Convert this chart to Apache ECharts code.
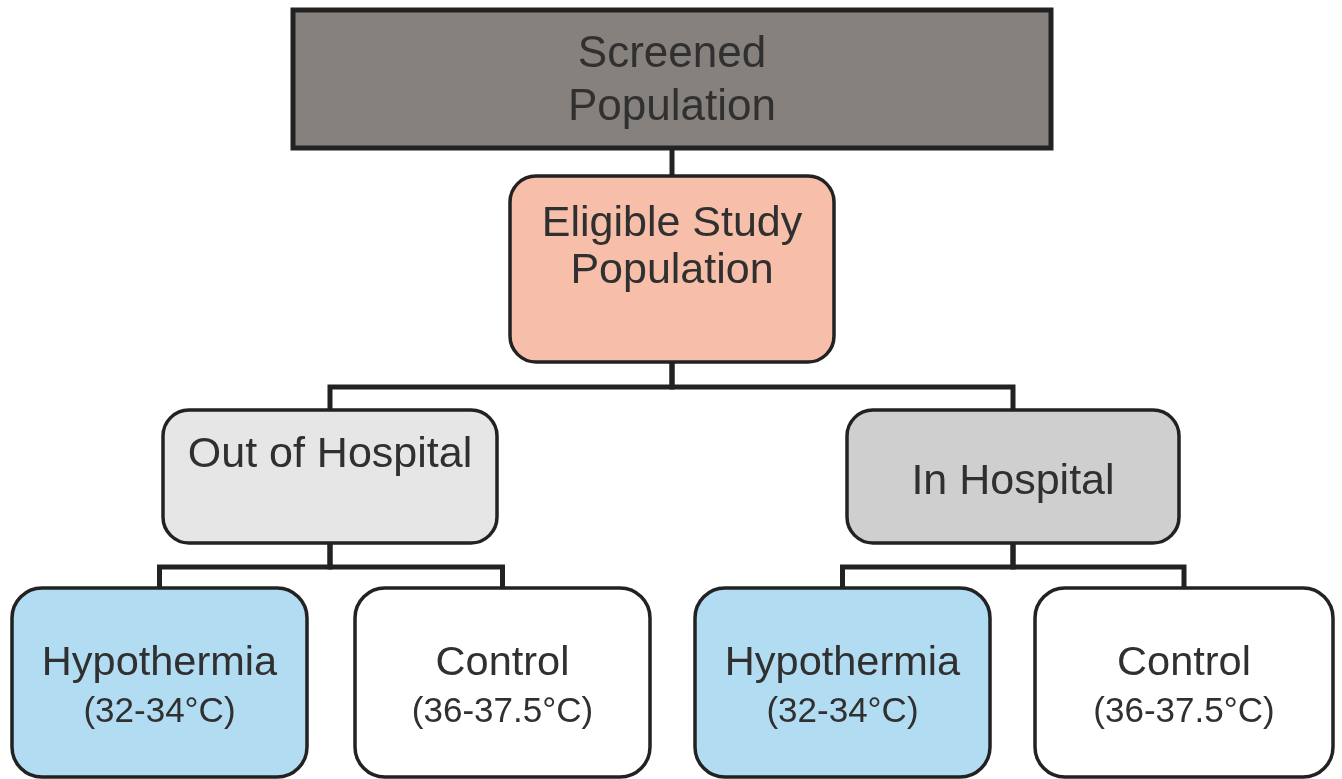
<!DOCTYPE html>
<html>
<head>
<meta charset="utf-8">
<script src="https://cdn.jsdelivr.net/npm/echarts@6/dist/echarts.min.js"></script>
<style>
  html, body { margin: 0; padding: 0; background: #fff; }
  #chart_flow { width: 1342px; height: 779px; }
</style>
</head>
<body>
<div id="chart_flow"></div>
<script>
// flowchart content
const nodeTitles = ['Screened', 'Eligible Study', 'Out of Hospital', 'In Hospital',
  'Hypothermia', 'Control', 'Hypothermia', 'Control']
const nodeSubtitles = ['Population', 'Population', '', '', '(32-34°C)', '(36-37.5°C)', '(32-34°C)', '(36-37.5°C)']
const nodeParents = [-1, 0, 1, 1, 2, 2, 3, 3]

// box layout: [left, top, right, bottom, radius, titleY, subtitleY]
const boxes = [
  [293, 10, 1051, 148, 0, 55, 108],
  [510, 176, 834, 362, 26, 224, 271],
  [163, 410, 497, 543, 26, 455, 0],
  [847, 410, 1179, 543, 26, 482, 0],
  [12, 588, 307, 777, 30, 664, 712],
  [355, 588, 650, 777, 30, 664, 712],
  [695, 588, 990, 777, 30, 664, 712],
  [1035, 588, 1333, 777, 30, 664, 712]
]
const fills = ['#86817d', '#f7bea9', '#e6e6e7', '#cfcfcf', '#b2dcf1', '#ffffff', '#b2dcf1', '#ffffff']
const titleSizes = [44, 43, 43, 43, 41.5, 41.5, 41.5, 41.5]
const subSizes = [44, 43, 0, 0, 35, 35, 35, 35]

const lineColor = '#222'
const textColor = '#303030'
const fontFamily = '"Liberation Sans", Arial, sans-serif'

function center(b) {
  return (b[0] + b[2]) / 2
}

function buildGraphics() {
  let els = []
  // connectors first so boxes sit on top
  nodeParents.forEach((p, i) => {
    if (p < 0) return
    let pb = boxes[p]
    let cb = boxes[i]
    let px = center(pb)
    let cx = center(cb)
    if (Math.abs(px - cx) < 3) cx = px
    let midY = Math.round((pb[3] + cb[1]) / 2) + 1
    els.push({
      type: 'polyline',
      shape: { points: [[px, pb[3]], [px, midY], [cx, midY], [cx, cb[1]]] },
      style: { stroke: lineColor, lineWidth: 5, fill: null, lineJoin: 'miter' },
      z: 1
    })
  })
  boxes.forEach((b, i) => {
    els.push({
      type: 'rect',
      shape: { x: b[0], y: b[1], width: b[2] - b[0], height: b[3] - b[1], r: b[4] },
      style: { fill: fills[i], stroke: lineColor, lineWidth: i === 0 ? 5 : 3.5 },
      z: 2
    })
    els.push({
      type: 'text',
      x: center(b),
      y: b[5],
      style: {
        text: nodeTitles[i],
        fill: textColor,
        font: titleSizes[i] + 'px ' + fontFamily,
        align: 'center',
        verticalAlign: 'middle'
      },
      z: 3
    })
    if (nodeSubtitles[i]) {
      els.push({
        type: 'text',
        x: center(b),
        y: b[6],
        style: {
          text: nodeSubtitles[i],
          fill: textColor,
          font: subSizes[i] + 'px ' + fontFamily,
          align: 'center',
          verticalAlign: 'middle'
        },
        z: 3
      })
    }
  })
  return els
}

const chart = echarts.init(document.getElementById('chart_flow'))
chart.setOption({
  backgroundColor: '#ffffff',
  animation: false,
  graphic: { elements: buildGraphics() }
})
</script>
</body>
</html>
